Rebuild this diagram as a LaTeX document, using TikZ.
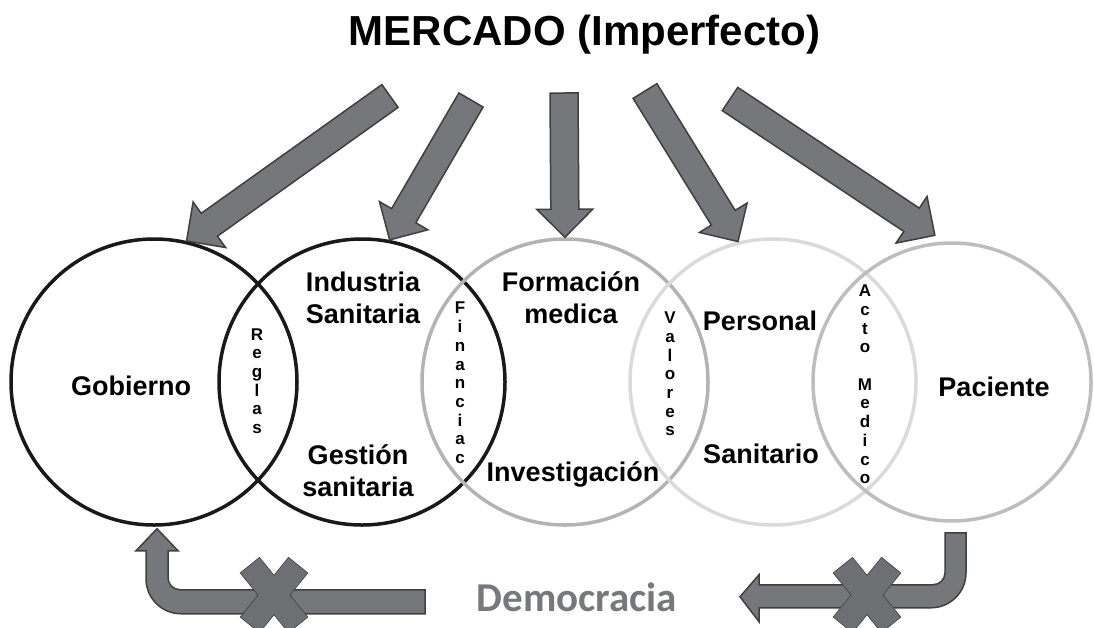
\documentclass[tikz,border=0pt]{standalone}
\usepackage{fontspec}
\setmainfont{Liberation Sans}
\newfontfamily\demofont{Carlito}
\usetikzlibrary{calc}

\definecolor{arrowgray}{HTML}{76777B}
\definecolor{edgegray}{HTML}{3F3F3F}
\definecolor{crossgray}{HTML}{6E6F73}
\definecolor{ringthree}{HTML}{B3B3B3}
\definecolor{ringfour}{HTML}{DADADA}
\definecolor{ringfive}{HTML}{BDBDBD}
\definecolor{demogray}{HTML}{77787B}

% block arrow from tail #1 to tip #2
\newcommand\fatarrow[2]{%
  \coordinate (hb) at ($(#2)!28pt!(#1)$);
  \draw[blockarrow] ($(#1)!14pt!90:(#2)$) -- ($(hb)!14pt!90:(#2)$)
    -- ($(hb)!28pt!90:(#2)$) -- (#2) -- ($(hb)!28pt!-90:(#2)$)
    -- ($(hb)!14pt!-90:(#2)$) -- ($(#1)!14pt!-90:(#2)$) -- cycle;}

% big X over a connector
\newcommand\crossmark[1]{%
  \foreach \a in {-51,51}
    \draw[blockarrow,shift={(#1)},rotate=\a] (-38,-12) rectangle (38,12);
  \foreach \a in {-51,51}
    \fill[crossgray,shift={(#1)},rotate=\a] (-38,-12) rectangle (38,12);}

\begin{document}
\begin{tikzpicture}[x=1pt,y=-1pt,
    ring/.style={circle,draw,line width=3.5pt,minimum size=286pt,inner sep=0pt},
    word/.style={font=\bfseries\fontsize{27}{32}\selectfont,align=center,inner sep=0pt},
    lensword/.style={font=\bfseries\fontsize{17}{18.7}\selectfont,align=center,inner sep=0pt},
    blockarrow/.style={fill=arrowgray,draw=edgegray,line width=1.5pt,line join=miter}]

  \useasboundingbox (0,0) rectangle (1094,627);

  \node[font=\bfseries\fontsize{42}{48}\selectfont,anchor=base] (mercado) at (584.5,45.5) {MERCADO (Imperfecto)};

  % circles
  \node[ring,draw=black!90] (gob) at (154,382) {};
  \node[ring,draw=black!90] (ind) at (362,382) {};
  \node[ring,draw=ringthree] (form) at (565,382) {};
  \node[ring,draw=ringfour] (pers) at (773,382) {};
  \node[ring,draw=ringfive,minimum size=278pt] (pac) at (952,382) {};

  % texts
  \node[word,anchor=base] (gobt) at (131,395) {Gobierno};
  \node[word] (indt) at (363,298) {Industria\\Sanitaria};
  \node[word] (gest) at (358,471) {Gestión\\sanitaria};
  \node[word] (formt) at (571,298) {Formación\\medica};
  \node[word,anchor=base] (inv) at (573,481) {Investigación};
  \node[word,anchor=base] (perst) at (760,330) {Personal};
  \node[word,anchor=base] (sani) at (761,463) {Sanitario};
  \node[word,anchor=base] (pact) at (994,396) {Paciente};

  \node[lensword] (reglas) at (257,381) {R\\e\\g\\l\\a\\s};
  \node[lensword] (finan) at (460,383) {F\\i\\n\\a\\n\\c\\i\\a\\c};
  \node[lensword] (valores) at (670,374) {V\\a\\l\\o\\r\\e\\s};
  \node[lensword] (acto) at (865,384.5) {A\\c\\t\\o\\[18.7pt]M\\e\\d\\i\\c\\o};

  \node[font=\demofont\bfseries\fontsize{41}{48}\selectfont,text=demogray,anchor=base] (democ) at (577,611) {Democracia};

  % arrows from the market
  \coordinate (t1) at (390,96);
  \coordinate (t2) at (471,100);
  \coordinate (t3) at (564,93);
  \coordinate (t4) at (645,91);
  \coordinate (t5) at (730,99);
  \coordinate (tip1) at (gob.77);
  \coordinate (tip2) at (ind.79);
  \coordinate (tip3) at (form.north);
  \coordinate (tip4) at (pers.104);
  \coordinate (tip5) at ($(pac.97)+(0,-7)$);
  \foreach \i in {1,...,5}
    \fatarrow{t\i}{tip\i};

  % democracy, blocked
  \draw[blockarrow] ($(gob.south)+(3,2)$) -- ++(21,22) -- ++(-10,0) -- ++(0,27)
    arc[start angle=180,end angle=90,radius=12] -- ++(245,0) -- ++(0,24) -- ++(-244,0)
    arc[start angle=90,end angle=180,radius=35] -- ++(0,-28) -- ++(-10,0) -- cycle;
  \draw[blockarrow] ($(pac.south)+(-7,10)$) -- ++(21,0) -- ++(0,40)
    arc[start angle=0,end angle=90,radius=35] -- ++(-172,0) -- ++(0,14) -- ++(-19,-25)
    -- ++(19,-22) -- ++(0,10) -- ++(174,0) arc[start angle=90,end angle=0,radius=12] -- cycle;

  \coordinate (xl) at (274,595);
  \coordinate (xr) at (867,595);
  \crossmark{xl}
  \crossmark{xr}

\end{tikzpicture}
\end{document}
